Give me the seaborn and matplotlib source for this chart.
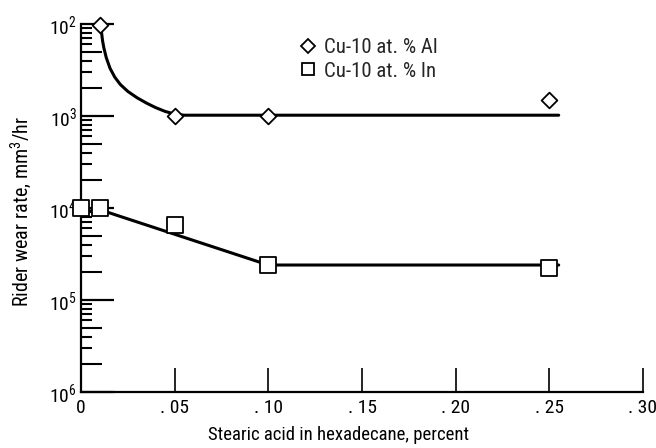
import matplotlib
matplotlib.use("Agg")
import matplotlib.pyplot as plt
from matplotlib import font_manager
import seaborn as sns
import pandas as pd
import numpy as np
from matplotlib.lines import Line2D
from matplotlib.ticker import FixedLocator, FixedFormatter, NullFormatter

# ---- data ----
al_x = [0.01, 0.05, 0.10, 0.25]
al_y = [9.8e-3, 1.00e-3, 1.00e-3, 1.5e-3]
in_x = [0.0, 0.01, 0.05, 0.10, 0.25]
in_y = [1.0e-4, 1.0e-4, 6.6e-5, 2.4e-5, 2.2e-5]

# faired curves
al_curve_x = [0.0105, 0.0110, 0.0115, 0.0122, 0.0135, 0.0155, 0.0180, 0.0210, 0.0250, 0.0299, 0.0350, 0.0400, 0.0450, 0.0500, 0.0550, 0.255]
al_curve_y = [9.5e-3, 8.0e-3, 6.6e-3, 5.5e-3, 4.3e-3, 3.3e-3, 2.65e-3, 2.2e-3, 1.85e-3, 1.58e-3, 1.38e-3, 1.23e-3, 1.12e-3, 1.05e-3, 1.02e-3, 1.02e-3]
in_curve_x = [0.0, 0.012, 0.10, 0.255]
in_curve_y = [9.3e-5, 9.3e-5, 2.4e-5, 2.4e-5]

x_ticks = [0, 0.05, 0.10, 0.15, 0.20, 0.25, 0.30]
x_tick_labels = ["0", ". 05", ". 10", ". 15", ". 20", ". 25", ". 30"]
y_ticks = [1e-6, 1e-5, 1e-4, 1e-3, 1e-2]
y_tick_labels = [r"10$^{6}$", r"10$^{5}$", r"10$^{4}$", r"10$^{3}$", r"10$^{2}$"]
legend_labels = ["Cu-10 at. % Al", "Cu-10 at. % In"]

sns.set_theme(style="ticks")

# choose a narrow font if one is available
fl = font_manager.fontManager.ttflist
names = {f.name for f in fl}
scale = 1.0
stretch = "normal"
if "Liberation Sans Narrow" in names:
    fam = "Liberation Sans Narrow"
elif "Roboto Condensed" in names:
    fam = "Roboto Condensed"
elif any(f.name == "DejaVu Sans" and f.stretch in ("condensed", "semi-condensed", 600, 500) for f in fl):
    fam = "DejaVu Sans"
    stretch = "condensed"
    scale = 0.95
else:
    fam = "Liberation Sans"
    scale = 0.95
plt.rcParams["font.family"] = [fam, "DejaVu Sans"]
plt.rcParams["font.stretch"] = stretch
plt.rcParams["mathtext.fontset"] = "custom"
plt.rcParams["mathtext.rm"] = fam
plt.rcParams["mathtext.it"] = fam

fs_tick = 14 * scale
fs_xlab = 13.5 * scale
fs_ylab = 14.5 * scale
fs_leg = 15 * scale

fig = plt.figure(figsize=(6.56, 4.48), dpi=100)
ax = fig.add_axes([81/656, 1-392/448, (643-81)/656, (392-24)/448])
ax.set_yscale("log")

al_pts = pd.DataFrame({"x": al_x, "y": al_y})
in_pts = pd.DataFrame({"x": in_x, "y": in_y})
al_cur = pd.DataFrame({"x": al_curve_x, "y": al_curve_y})
in_cur = pd.DataFrame({"x": in_curve_x, "y": in_curve_y})

sns.lineplot(data=al_cur, x="x", y="y", ax=ax, color="black", lw=2.2, estimator=None, sort=False, zorder=2)
sns.lineplot(data=in_cur, x="x", y="y", ax=ax, color="black", lw=2.2, estimator=None, sort=False, zorder=2)
sns.scatterplot(data=al_pts, x="x", y="y", ax=ax, marker="D", s=64, facecolor="white",
                edgecolor="black", linewidth=1.3, zorder=3, clip_on=False)
sns.scatterplot(data=in_pts, x="x", y="y", ax=ax, marker="s", s=120, facecolor="white",
                edgecolor="black", linewidth=1.3, zorder=3, clip_on=False)

ax.set_xlim(0, 0.30)
ax.set_ylim(1e-6, 1e-2)

for s in ["top", "right"]:
    ax.spines[s].set_visible(False)
for s in ["left", "bottom"]:
    ax.spines[s].set_linewidth(1.6)
    ax.spines[s].set_color("black")

ax.xaxis.set_major_locator(FixedLocator(x_ticks))
ax.xaxis.set_major_formatter(FixedFormatter(x_tick_labels))
ax.tick_params(axis="x", which="major", direction="in", length=17, width=1.2,
               labelsize=fs_tick, pad=5, colors="black")
ax.xaxis.set_minor_locator(FixedLocator([]))

ax.yaxis.set_major_locator(FixedLocator(y_ticks))
ax.yaxis.set_major_formatter(FixedFormatter(y_tick_labels))
minor_vals = []
for d in range(-6, -2):
    for m in range(2, 10):
        minor_vals.append(m * 10.0**d)
ax.yaxis.set_minor_locator(FixedLocator(minor_vals))
ax.yaxis.set_minor_formatter(NullFormatter())
ax.tick_params(axis="y", which="major", direction="in", length=24, width=1.6,
               labelsize=fs_tick, pad=3, colors="black")
ax.tick_params(axis="y", which="minor", direction="in", length=8, width=1.5, colors="black")
for t, v in zip(ax.yaxis.get_minor_ticks(), minor_vals):
    mant = round(v / 10.0**np.floor(np.log10(v) + 1e-9))
    if mant in (2, 5):
        t.tick1line.set_markersize(15)

ax.set_xlabel("Stearic acid in hexadecane, percent", fontsize=fs_xlab, color="black")
ax.set_ylabel(r"Rider wear rate, mm$^{3}$/hr", fontsize=fs_ylab, color="black")
ax.xaxis.set_label_coords(0.458, -0.092)
ax.yaxis.set_label_coords(-0.083, 0.49)

handles = [
    Line2D([], [], marker="D", ls="none", markerfacecolor="white", markeredgecolor="black",
           markersize=7, markeredgewidth=1.3),
    Line2D([], [], marker="s", ls="none", markerfacecolor="white", markeredgecolor="black",
           markersize=9, markeredgewidth=1.3),
]
leg = fig.legend(handles, legend_labels, loc="upper left", bbox_to_anchor=(287/656, 1-28/448),
                 frameon=False, fontsize=fs_leg, handletextpad=0.3, handlelength=1.0,
                 labelspacing=0.2, borderpad=0)

fig.savefig("out.png", dpi=100)
